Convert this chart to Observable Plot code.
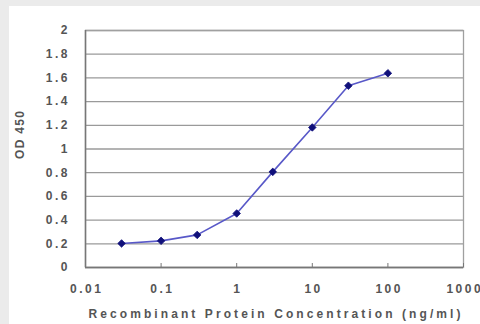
<!DOCTYPE html>
<html><head><meta charset="utf-8">
<script src="https://cdn.jsdelivr.net/npm/d3@7"></script>
<script src="https://cdn.jsdelivr.net/npm/@observablehq/plot@0.6"></script>
<style>
html,body{margin:0;padding:0;background:#ebebeb;width:480px;height:324px;overflow:hidden}
#panel{position:absolute;left:9px;top:6px;width:471px;height:318px;background:#fff}
#chart{position:absolute;left:0;top:0}
.tk text{letter-spacing:2.5px}
</style></head><body>
<div id="panel"></div>
<div id="chart"></div>
<script>
const concentrations = [0.03, 0.1, 0.3, 1, 3, 10, 30, 100];
const od450 = [0.203, 0.225, 0.275, 0.456, 0.807, 1.182, 1.534, 1.639];
const xTicks = [0.01, 0.1, 1, 10, 100, 1000];
const yTicks = [0, 0.2, 0.4, 0.6, 0.8, 1, 1.2, 1.4, 1.6, 1.8, 2];
const xLabel = "Recombinant Protein Concentration (ng/ml)";
const yLabel = "OD 450";

const data = concentrations.map((c, i) => ({c, od: od450[i]}));

const chart = Plot.plot({
  width: 480, height: 324,
  marginLeft: 85, marginRight: 17, marginTop: 30, marginBottom: 57,
  style: {background: "transparent", fontFamily: "'Liberation Sans', Arial, sans-serif", fontSize: "12px", color: "#555"},
  x: {type: "log", domain: [0.01, 1000]},
  y: {domain: [0, 2]},
  marks: [
    Plot.gridY(yTicks, {stroke: "#9a9a9a", strokeOpacity: 1, strokeWidth: 1.3}),
    Plot.frame({stroke: "#a0a0a0", strokeWidth: 1.3}),
    Plot.axisY(yTicks, {tickSize: 0, tickPadding: 15.5, tickFormat: d => String(+d.toFixed(1)), label: null, fontSize: 12, fontWeight: "bold", fill: "#555", className: "tk"}),
    Plot.axisX(xTicks, {tickSize: 0, tickPadding: 17, dx: 1.25, tickFormat: d => String(d), label: null, fontSize: 12, fontWeight: "bold", fill: "#555", className: "tk"}),
    Plot.axisX(xTicks, {tickSize: -4, tickFormat: () => "", label: null, stroke: "#777"}),
    Plot.ruleX([0.01], {stroke: "#777", strokeWidth: 1.5}),
    Plot.ruleY([0], {stroke: "#777", strokeWidth: 1.5}),
    Plot.line(data, {x: "c", y: "od", stroke: "#5858c8", strokeWidth: 1.6}),
    Plot.dot(data, {x: "c", y: "od", symbol: "diamond2", r: 3.4, fill: "#10107a", stroke: "#10107a", strokeWidth: 0.8}),
    Plot.text([xLabel], {frameAnchor: "bottom", dy: 50, text: d => d, fontSize: 12, fontWeight: "bold", fill: "#555", className: "xlab"}),
    Plot.text([yLabel], {frameAnchor: "left", dx: -65, dy: 10, rotate: -90, text: d => d, fontSize: 12, fontWeight: "bold", fill: "#555", className: "ylab"})
  ]
});
document.getElementById("chart").appendChild(chart);
chart.querySelectorAll(".xlab text").forEach(t => { t.setAttribute("textLength", 372); t.setAttribute("lengthAdjust", "spacing"); });
chart.querySelectorAll(".ylab text").forEach(t => { t.setAttribute("textLength", 48); t.setAttribute("lengthAdjust", "spacing"); });
</script>
</body></html>
